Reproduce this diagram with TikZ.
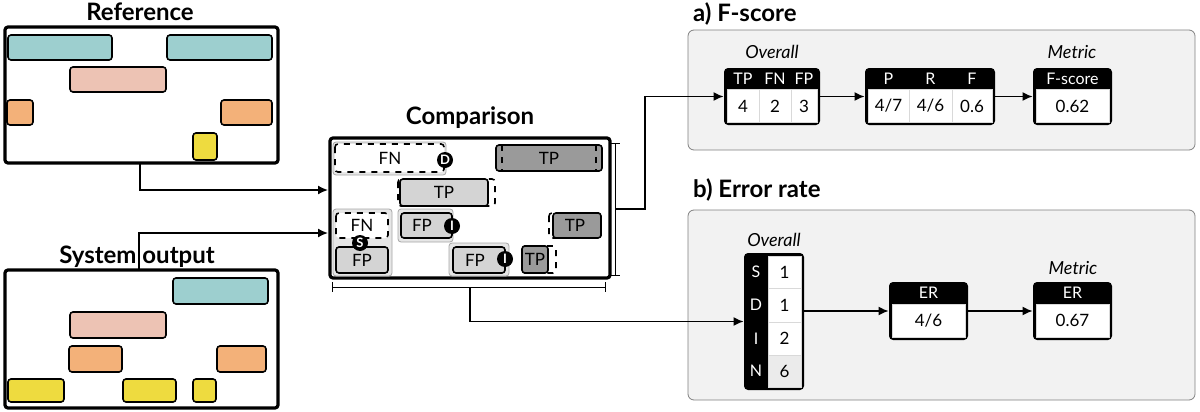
\documentclass[tikz,border=0pt]{standalone}
\usepackage{fontspec}
\setmainfont{Lato}
\usetikzlibrary{arrows.meta}
\definecolor{segteal}{HTML}{9DCFCF}
\definecolor{segpink}{HTML}{EDC3B4}
\definecolor{segorange}{HTML}{F3B179}
\definecolor{segyellow}{HTML}{EEDB3F}
\definecolor{lightbox}{HTML}{D4D4D4}
\definecolor{darkbox}{HTML}{9A9A9A}
\definecolor{panelbg}{HTML}{F2F2F2}
\definecolor{groupbg}{HTML}{E6E6E6}
\tikzset{
  seg/.style={draw=black, thick, rounded corners=1.5pt},
  frame/.style={draw=black, line width=1.6pt, rounded corners=1.5pt},
  title/.style={font=\fontsize{12}{14}\selectfont\bfseries},
  tag/.style={font=\fontsize{8.5}{10}\selectfont},
  hdr/.style={font=\fontsize{8}{10}\selectfont, text=white},
  badge/.style={circle, fill=black, inner sep=0pt, minimum size=8pt, text=white, font=\fontsize{6.5}{7}\selectfont\bfseries},
  grp/.style={draw=gray!70, fill=groupbg, rounded corners=1.5pt},
  lab/.style={font=\fontsize{9}{11}\selectfont\itshape},
  arr/.style={-{Latex[length=5pt,width=4.5pt]}, thick},
}
\begin{document}
\begin{tikzpicture}[x=0.5pt, y=-0.5pt]
\useasboundingbox (0,0) rectangle (1200,412);
% reference and system output
\node[title] (reft) at (140,12) {Reference};
\draw[frame] (5,27) rectangle (278,163);
\coordinate (refout) at (140,163);
\draw[seg, fill=segteal] (8,35) rectangle (112,60);
\draw[seg, fill=segteal] (167,35) rectangle (272,60);
\draw[seg, fill=segpink] (70,67) rectangle (166,92);
\draw[seg, fill=segorange] (7,100) rectangle (33,125);
\draw[seg, fill=segorange] (221,100) rectangle (272,125);
\draw[seg, fill=segyellow] (193,133) rectangle (217,160);
\node[title] (syst) at (137,257) {System output};
\draw[frame] (5,270) rectangle (278,408);
\coordinate (sysout) at (139,270);
\draw[seg, fill=segteal] (173,278) rectangle (268,304);
\draw[seg, fill=segpink] (70,312) rectangle (166,338);
\draw[seg, fill=segorange] (69,346) rectangle (122,372);
\draw[seg, fill=segorange] (217,346) rectangle (266,372);
\draw[seg, fill=segyellow] (8,379) rectangle (64,402);
\draw[seg, fill=segyellow] (123,379) rectangle (176,402);
\draw[seg, fill=segyellow] (193,379) rectangle (216,402);
% comparison
\node[title] (cmpt) at (470,118) {Comparison};
\draw[frame] (330,138) rectangle (610,278);
\coordinate (cmpa) at (328,190);
\coordinate (cmpb) at (328,233);
\draw[grp] (333,142) rectangle (446,175);
\draw[seg, dashed, fill=white] (335,144) rectangle (444,172);
\node[tag] at (390,158) {FN};
\node[badge] at (445,160) {D};
\draw[seg, fill=darkbox] (496,145) rectangle (602,171);
\draw[thick, dashed] (502,145) -- (502,171) (596,145) -- (596,171);
\node[tag] at (549,158) {TP};
\draw[seg, dashed] (398,179) rectangle (495,206);
\draw[seg, fill=lightbox] (400,179) rectangle (488,206);
\node[tag] at (444,192.5) {TP};
\draw[grp] (333,209) rectangle (392,276);
\draw[seg, dashed, fill=white] (336,213) rectangle (388,238);
\node[tag] at (362,225) {FN};
\draw[seg, fill=lightbox] (336,247) rectangle (388,273);
\node[tag] at (362,260) {FP};
\node[badge] at (360,243) {S};
\draw[grp] (398,209) rectangle (453,242);
\draw[seg, fill=lightbox] (401,213) rectangle (452,238);
\node[tag] at (422,225.5) {FP};
\node[badge] at (452,226) {I};
\draw[seg, dashed] (549,213) rectangle (601,238);
\draw[seg, fill=darkbox] (553,213) rectangle (601,238);
\node[tag] at (575,225.5) {TP};
\draw[grp] (449,243) rectangle (509,276);
\draw[seg, fill=lightbox] (453,247) rectangle (505,273);
\node[tag] at (475,260) {FP};
\node[badge] at (505,259) {I};
\draw[seg, dashed] (522,246) rectangle (556,273);
\draw[seg, fill=darkbox] (522,246) rectangle (548,273);
\node[tag] at (535,259.5) {TP};
% brackets
\draw (610,143) -- (620,143) (615,143) -- (615,275) (610,275) -- (620,275);
\draw (332,282) -- (332,292) (332,287) -- (605,287) (605,282) -- (605,292);
\coordinate (brr) at (615,209);
\coordinate (brb) at (470,287);
% panel a
\node[title, anchor=west] (pat) at (686,14) {a) F-score};
\draw[draw=gray, fill=panelbg, rounded corners=3pt] (688,30) rectangle (1195,150);
\node[lab] at (772,52) {Overall};
\node[lab] at (1072,52) {Metric};
\node[fill=black, rounded corners=2pt, minimum width=48pt, minimum height=28.5pt, inner sep=0pt] (ovf) at (772,96.5) {};
\node[fill=black, rounded corners=2pt, minimum width=65pt, minimum height=28.5pt, inner sep=0pt] (prf) at (930,96.5) {};
\node[fill=black, rounded corners=2pt, minimum width=39.5pt, minimum height=28.5pt, inner sep=0pt] (fsc) at (1072.5,96.5) {};
\foreach \xa/\xb/\h/\v in {727/759/TP/4, 759/791/FN/2, 791/817/FP/3,
  868/909/P/4\slash 7, 909/952/R/4\slash 6, 952/992/F/0.6, 1036/1109/F-score/0.62} {
  \draw[draw=black!15, fill=white] (\xa,89) rectangle (\xb,122);
  \node[hdr] at ({(\xa+\xb)/2},79) {\h};
  \node[tag] at ({(\xa+\xb)/2},106) {\v};
}
\draw[arr] (ovf) -- (prf);
\draw[arr] (prf) -- (fsc);
% panel b
\node[title, anchor=west] (pbt) at (686,190) {b) Error rate};
\draw[draw=gray, fill=panelbg, rounded corners=3pt] (688,210) rectangle (1195,400);
\node[lab] at (774,240) {Overall};
\node[lab] at (1073,268) {Metric};
\node[fill=black, rounded corners=2pt, minimum width=30pt, minimum height=68.5pt, inner sep=0pt] (ove) at (774,321.5) {};
\foreach \ya/\yb/\h/\v/\c in {256/288/S/1/white, 288/322/D/1/white, 322/355/I/2/white, 355/387/N/6/black!8} {
  \draw[draw=black!15, fill=\c] (768,\ya) rectangle (801,\yb);
  \node[hdr] at (756,{(\ya+\yb)/2}) {\h};
  \node[tag] at (784.5,{(\ya+\yb)/2}) {\v};
}
\node[fill=black, rounded corners=2pt, minimum width=39.5pt, minimum height=29pt, inner sep=0pt] (erv) at (928.5,311) {};
\node[fill=black, rounded corners=2pt, minimum width=39.5pt, minimum height=29pt, inner sep=0pt] (erm) at (1072.5,311) {};
\foreach \xa/\xb/\v in {892/965/4\slash 6, 1036/1109/0.67} {
  \draw[draw=black!15, fill=white] (\xa,304) rectangle (\xb,337);
  \node[hdr] at ({(\xa+\xb)/2},293) {ER};
  \node[tag] at ({(\xa+\xb)/2},320.5) {\v};
}
% connectors
\draw[arr] (refout) |- (cmpa);
\draw[arr] (sysout) |- (cmpb);
\draw[arr] (brr) -- (645,209) |- (ovf.west);
\draw[arr] (brb) |- (ove.west);
\draw[arr] (ove.east |- erv.west) -- (erv.west);
\draw[arr] (erv) -- (erm);
\end{tikzpicture}
\end{document}
